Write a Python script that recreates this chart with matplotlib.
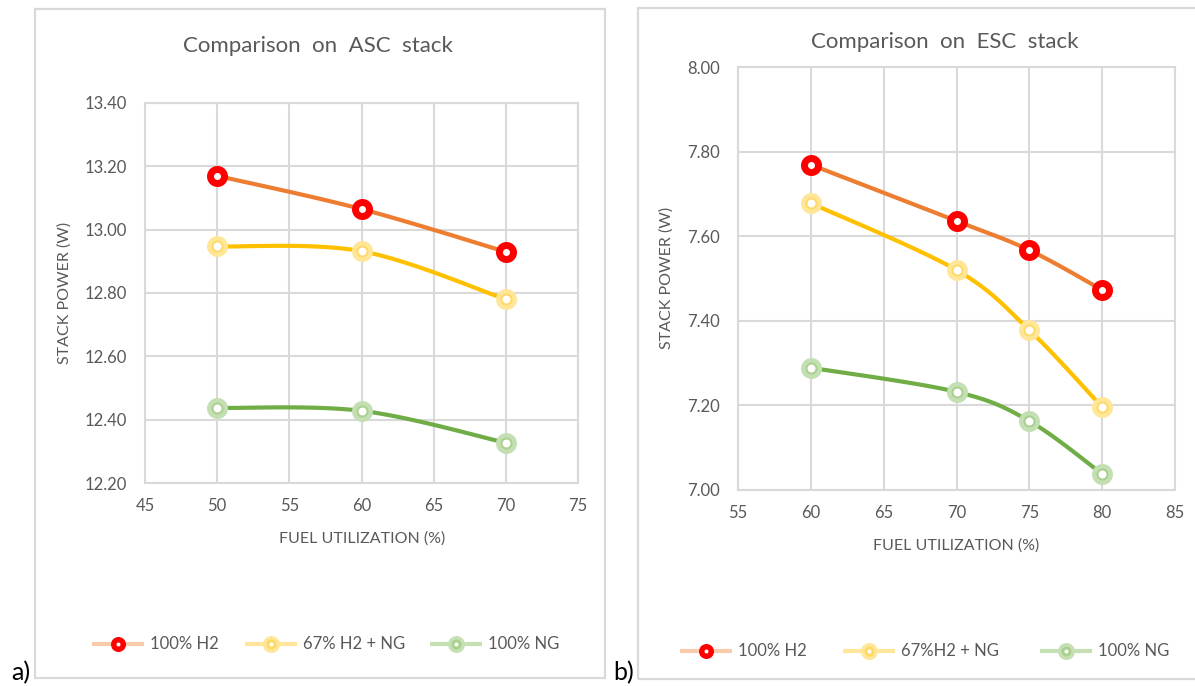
import numpy as np
import matplotlib
matplotlib.use("Agg")
import matplotlib.pyplot as plt
from matplotlib.patches import Rectangle

# ---- data ----
asc_fu = [50, 60, 70]
asc_h2 = [13.17, 13.065, 12.93]
asc_mix = [12.947, 12.932, 12.78]
asc_ng = [12.437, 12.428, 12.327]

esc_fu = [60, 70, 75, 80]
esc_h2 = [7.769, 7.636, 7.567, 7.473]
esc_mix = [7.678, 7.520, 7.378, 7.196]
esc_ng = [7.289, 7.232, 7.163, 7.038]

asc_yticks = [12.20, 12.40, 12.60, 12.80, 13.00, 13.20, 13.40]
asc_xticks = [45, 50, 55, 60, 65, 70, 75]
esc_yticks = [7.00, 7.20, 7.40, 7.60, 7.80, 8.00]
esc_xticks = [55, 60, 65, 70, 75, 80, 85]

labels_asc = ["100% H2", "67% H2 + NG", "100% NG"]
labels_esc = ["100% H2", "67%H2 + NG", "100% NG"]

FONT = ["Lato", "DejaVu Sans"]
plt.rcParams['font.family'] = FONT
TXT = "#595959"
GRID = "#D9D9D9"
COL_LINE = ["#ED7D31", "#FFC000", "#70AD47"]


def smooth(x, y, n=30):
    """Catmull-Rom style smoothing (Excel 'smoothed line')."""
    x = np.asarray(x, float); y = np.asarray(y, float)
    P = np.column_stack([x, y])
    out = []
    for i in range(len(P) - 1):
        p0 = P[i - 1] if i > 0 else P[i]
        p1 = P[i]; p2 = P[i + 1]
        p3 = P[i + 2] if i + 2 < len(P) else P[i + 1]
        c1 = p1 + (p2 - p0) / 6.0
        c2 = p2 - (p3 - p1) / 6.0
        t = np.linspace(0, 1, n)[:, None]
        seg = ((1 - t) ** 3) * p1 + 3 * ((1 - t) ** 2) * t * c1 + 3 * (1 - t) * t ** 2 * c2 + t ** 3 * p2
        out.append(seg if i == 0 else seg[1:])
    s = np.vstack(out)
    return s[:, 0], s[:, 1]


def px(p):
    return p * 72 / 100.0


def draw_markers(ax, x, y, kind, zorder=5):
    if kind == 0:
        ax.plot(x, y, ls='none', marker='o', ms=px(21), mfc='#FF0000', mec='none', zorder=zorder)
        ax.plot(x, y, ls='none', marker='o', ms=px(7), mfc='white', mec='none', zorder=zorder + 1)
    elif kind == 1:
        ax.plot(x, y, ls='none', marker='o', ms=px(21), mfc='#FFE699', mec='none', zorder=zorder)
        ax.plot(x, y, ls='none', marker='o', ms=px(12), mfc='#FFD966', mec='none', zorder=zorder + 1)
        ax.plot(x, y, ls='none', marker='o', ms=px(8), mfc='white', mec='none', zorder=zorder + 2)
    else:
        ax.plot(x, y, ls='none', marker='o', ms=px(21), mfc='#C5DFB4', mec='none', zorder=zorder)
        ax.plot(x, y, ls='none', marker='o', ms=px(12), mfc='#A9D08E', mec='none', zorder=zorder + 1)
        ax.plot(x, y, ls='none', marker='o', ms=px(8), mfc='white', mec='none', zorder=zorder + 2)


def setup_axes(ax, xt, yt):
    ax.set_xlim(xt[0], xt[-1])
    ax.set_ylim(yt[0], yt[-1])
    ax.set_xticks(xt)
    ax.set_yticks(yt)
    ax.set_xticklabels([str(v) for v in xt])
    ax.set_yticklabels([f"{v:.2f}" for v in yt])
    ax.grid(True, color=GRID, lw=1.5)
    ax.set_axisbelow(True)
    for s in ax.spines.values():
        s.set_color(GRID)
        s.set_linewidth(1.5)
    ax.tick_params(length=0, labelsize=12, colors=TXT)
    ax.tick_params(axis='y', pad=13)
    ax.tick_params(axis='x', pad=11)


fig = plt.figure(figsize=(11.95, 6.86), dpi=100)
W, H = 1195, 686


def fx(x):
    return x / W


def fy(y):
    return 1 - y / H


# panel boxes
fig.patches.append(Rectangle((fx(35), fy(678)), fx(605 - 35), (678 - 9) / H,
                             transform=fig.transFigure, fill=False, ec=GRID, lw=1.6))
fig.patches.append(Rectangle((fx(638), fy(679)), fx(1250 - 638), (679 - 8) / H,
                             transform=fig.transFigure, fill=False, ec=GRID, lw=1.6, clip_on=False))

# left
ax1 = fig.add_axes([fx(145), fy(483), fx(578 - 145), (483 - 103) / H])
setup_axes(ax1, asc_xticks, asc_yticks)
for k, ys in enumerate([asc_h2, asc_mix, asc_ng]):
    sx, sy = smooth(asc_fu, ys)
    ax1.plot(sx, sy, color=COL_LINE[k], lw=3, zorder=3, solid_capstyle='butt')
    draw_markers(ax1, asc_fu, ys, k)

# right
ax2 = fig.add_axes([fx(738), fy(490), fx(1175 - 738), (490 - 67) / H])
setup_axes(ax2, esc_xticks, esc_yticks)
for k, ys in enumerate([esc_h2, esc_mix, esc_ng]):
    sx, sy = smooth(esc_fu, ys)
    ax2.plot(sx, sy, color=COL_LINE[k], lw=3, zorder=3, solid_capstyle='butt')
    draw_markers(ax2, esc_fu, ys, k)

# titles and axis labels
fig.text(fx(318), fy(46), "Comparison  on  ASC  stack", ha='center', va='center', fontsize=16,
         color=TXT)
fig.text(fx(945), fy(42), "Comparison  on  ESC  stack", ha='center', va='center', fontsize=16,
         color=TXT)
fig.text(fx(65), fy(293), "STACK POWER (W)", rotation=90, ha='center', va='center', fontsize=11.5, color=TXT)
fig.text(fx(667), fy(278), "STACK POWER (W)", rotation=90, ha='center', va='center', fontsize=11.5, color=TXT)
fig.text(fx(362), fy(539), "FUEL UTILIZATION (%)", ha='center', va='center', fontsize=11.5, color=TXT)
fig.text(fx(956), fy(546), "FUEL UTILIZATION (%)", ha='center', va='center', fontsize=11.5, color=TXT)

# legends (manual, drawn in a figure-level overlay axes)
lax = fig.add_axes([0, 0, 1, 1], facecolor='none')
lax.set_xlim(0, W)
lax.set_ylim(H, 0)
lax.axis('off')
leg_col = ['#F8CBAD', '#FFE699', '#C5E0B4']


def legend_entry(xc, y, k, label):
    lax.plot([xc - 26, xc + 26], [y, y], color=leg_col[k], lw=3, zorder=2, solid_capstyle='butt')
    if k == 0:
        lax.plot([xc], [y], 'o', ms=px(15), mfc='#FF0000', mec='none', zorder=3)
        lax.plot([xc], [y], 'o', ms=px(4), mfc='white', mec='none', zorder=4)
    elif k == 1:
        lax.plot([xc], [y], 'o', ms=px(17), mfc='#FFE699', mec='none', zorder=3)
        lax.plot([xc], [y], 'o', ms=px(10), mfc='#FFD966', mec='none', zorder=4)
        lax.plot([xc], [y], 'o', ms=px(4), mfc='white', mec='none', zorder=5)
    else:
        lax.plot([xc], [y], 'o', ms=px(17), mfc='#C5E0B4', mec='none', zorder=3)
        lax.plot([xc], [y], 'o', ms=px(10), mfc='#A9D08E', mec='none', zorder=4)
        lax.plot([xc], [y], 'o', ms=px(4), mfc='white', mec='none', zorder=5)
    lax.text(xc + 32, y, label, ha='left', va='center', fontsize=12, color=TXT)


for xc, k in zip([118, 271, 456], range(3)):
    legend_entry(xc, 644, k, labels_asc[k])
for xc, k in zip([706, 869, 1066], range(3)):
    legend_entry(xc, 651, k, labels_esc[k])

fig.text(fx(11), fy(673), "a)", ha='left', va='center', fontsize=18, color='black')
fig.text(fx(613), fy(673), "b)", ha='left', va='center', fontsize=18, color='black')

fig.savefig("out.png", dpi=100)
